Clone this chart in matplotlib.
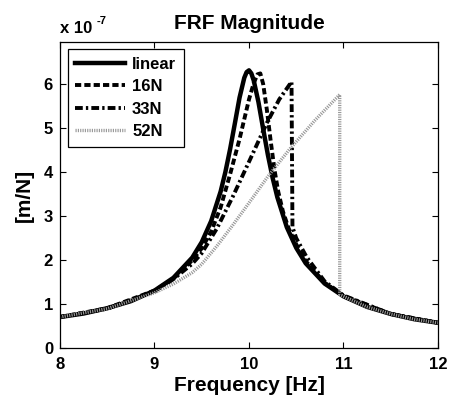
import matplotlib
matplotlib.use("Agg")
import matplotlib.pyplot as plt

plt.rcParams['font.family'] = ['Liberation Sans', 'DejaVu Sans']
plt.rcParams['font.weight'] = 'bold'

# FRF magnitude, in units of 1e-7 m/N
freq_lin = [8.0, 8.25, 8.5, 8.75, 9.0, 9.2, 9.4, 9.5, 9.6, 9.7, 9.75, 9.8, 9.85, 9.9,
            9.95, 9.975, 10.0, 10.025, 10.05, 10.1, 10.15, 10.2, 10.25, 10.3, 10.4,
            10.5, 10.6, 10.8, 11.0, 11.25, 11.5, 11.75, 12.0]
mag_lin = [0.71, 0.79, 0.91, 1.07, 1.31, 1.60, 2.06, 2.41, 2.89, 3.56, 4.00, 4.52, 5.10, 5.69,
           6.14, 6.27, 6.31, 6.24, 6.08, 5.59, 4.98, 4.39, 3.87, 3.43, 2.75,
           2.28, 1.93, 1.47, 1.18, 0.94, 0.78, 0.66, 0.58]

freq_16 = [8.0, 8.5, 9.0, 9.2, 9.4, 9.5, 9.6, 9.7, 9.8, 9.9, 10.0, 10.05, 10.09, 10.12,
           10.15, 10.19, 10.23, 10.27, 10.31, 10.36, 10.42, 10.5, 10.6, 10.8, 11.0, 11.5, 12.0]
mag_16 = [0.71, 0.91, 1.31, 1.58, 2.0, 2.27, 2.65, 3.2, 3.95, 4.75, 5.65, 6.02, 6.22, 6.24,
          6.0, 5.4, 4.7, 4.05, 3.55, 3.1, 2.72, 2.36, 1.98, 1.49, 1.19, 0.78, 0.58]

freq_33 = [8.0, 8.5, 9.0, 9.2, 9.4, 9.5, 9.66, 9.83, 10.01, 10.19, 10.32, 10.45,
           10.46, 10.5, 10.61, 10.8, 11.0, 11.5, 12.0]
mag_33 = [0.71, 0.90, 1.29, 1.57, 1.92, 2.16, 2.72, 3.45, 4.28, 5.12, 5.65, 6.05,
          2.75, 2.5, 2.07, 1.52, 1.20, 0.78, 0.58]

freq_52 = [8.0, 8.5, 9.0, 9.2, 9.4, 9.5, 9.66, 9.83, 10.0, 10.2, 10.43, 10.7, 10.96,
           10.96, 11.0, 11.25, 11.5, 11.75, 12.0]
mag_52 = [0.71, 0.90, 1.26, 1.46, 1.72, 1.91, 2.32, 2.80, 3.30, 3.90, 4.52, 5.18, 5.76,
          1.22, 1.18, 0.94, 0.78, 0.66, 0.58]

fig = plt.figure(figsize=(4.49, 4.01), dpi=100)
ax = fig.add_axes([0.1336, 0.1314, 0.8419, 0.7646])

ax.plot(freq_lin, mag_lin, color='black', lw=3.2, ls='-', label='linear')
ax.plot(freq_16, mag_16, color='black', lw=2.8, ls=(0, (1.6, 0.8)), label='16N')
ax.plot(freq_33, mag_33, color='black', lw=2.8, ls=(0, (2.0, 0.8, 0.6, 0.8)), label='33N')
ax.plot(freq_52, mag_52, color='0.6', lw=2.4, ls=(0, (0.35, 0.35)), label='52N')

ax.set_xlim(8, 12)
ax.set_ylim(0, 6.96)
ax.set_xticks([8, 9, 10, 11, 12])
ax.set_yticks([0, 1, 2, 3, 4, 5, 6])
ax.tick_params(direction='in', length=4, width=0.8, top=True, right=True,
               labelsize=12, pad=5)
ax.tick_params(axis='x', pad=6)
for lab in ax.get_xticklabels() + ax.get_yticklabels():
    lab.set_fontweight('bold')
for s in ax.spines.values():
    s.set_linewidth(0.9)

ax.set_title('FRF Magnitude', fontsize=15, fontweight='bold', pad=9)
ax.set_xlabel('Frequency [Hz]', fontsize=15, fontweight='bold', labelpad=3)
ax.set_ylabel('[m/N]', fontsize=15, fontweight='bold', labelpad=7)
ax.text(0.0, 1.02, 'x 10', transform=ax.transAxes,
        fontsize=12, fontweight='bold', ha='left', va='bottom')
ax.text(0.098, 1.052, '-7', transform=ax.transAxes,
        fontsize=8, fontweight='bold', ha='left', va='bottom')

leg = ax.legend(loc='upper left', bbox_to_anchor=(0.021, 0.976), borderaxespad=0,
                fancybox=False, edgecolor='black', framealpha=1, fontsize=12,
                handlelength=3.0, handletextpad=0.4, labelspacing=0.45, borderpad=0.45)
leg.get_frame().set_linewidth(0.9)
for t in leg.get_texts():
    t.set_fontweight('bold')

fig.savefig('out.png', dpi=100)
